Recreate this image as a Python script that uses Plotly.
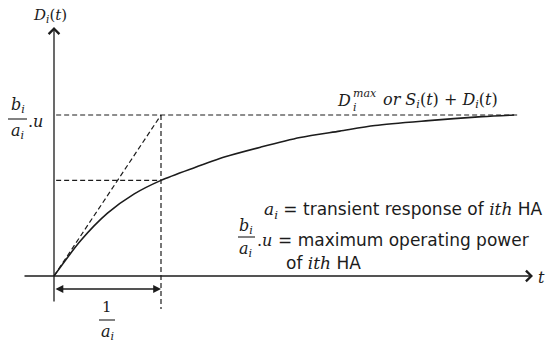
import plotly.graph_objects as go

# Step response of the i-th HA, normalised: time in units of 1/a_i,
# demand in units of (b_i/a_i)·u
t_curve = [0, 0.25, 0.5, 0.75, 1.0, 1.3, 1.6, 1.93, 2.3, 2.67, 3.0, 3.5, 4.0, 4.3]
d_curve = [0, 0.22, 0.39, 0.51, 0.594, 0.67, 0.74, 0.80, 0.86, 0.90, 0.935, 0.965, 0.99, 1.0]

tau = 1.0          # time constant 1/a_i
d_max = 1.0        # (b_i/a_i)·u
d_at_tau = 0.594   # curve value at t = 1/a_i
t_end = 4.33       # end of the steady-state guide

W, H = 547, 343
X0, Y0, SX, SY = 54, 276, 107, 161   # origin and unit lengths on the canvas

x_range = [-X0 / SX, (W - X0) / SX]
y_range = [(Y0 - H) / SY, Y0 / SY]

SERIF = "DejaVu Serif"
SANS = "DejaVu Sans"
INK = "#1c1c1c"

fig = go.Figure()

fig.add_trace(go.Scatter(
    x=t_curve, y=d_curve, mode="lines",
    line=dict(color=INK, width=1.6, shape="spline", smoothing=0.8),
    hoverinfo="skip", showlegend=False,
))

dash = "5px,3px"
guide = dict(color=INK, width=1.2, dash=dash)
shapes = [
    # steady-state level
    dict(type="line", x0=0.02, y0=d_max, x1=t_end, y1=d_max, line=guide),
    # level reached at t = 1/a_i
    dict(type="line", x0=0.02, y0=d_at_tau, x1=tau, y1=d_at_tau, line=guide),
    # t = 1/a_i
    dict(type="line", x0=tau, y0=d_max, x1=tau, y1=(Y0 - 309) / SY, line=guide),
    # initial tangent
    dict(type="line", x0=0, y0=0, x1=tau, y1=d_max, line=guide),
]


def px(x):
    return x / W


def py(y):
    return 1 - y / H


annotations = []


def text(s, x, y, size, family=SERIF, xanchor="center"):
    annotations.append(dict(
        text=s, x=px(x), y=py(y), xref="paper", yref="paper",
        showarrow=False, xanchor=xanchor, yanchor="middle",
        font=dict(family=family, size=size, color=INK),
    ))


def arrow(x0, y0, x1, y1, head, size, side="end"):
    annotations.append(dict(
        text="", x=x1, y=y1, ax=x0, ay=y0,
        xref="x", yref="y", axref="x", ayref="y",
        showarrow=True, arrowhead=head, startarrowhead=head,
        arrowsize=size, startarrowsize=size, arrowwidth=1.3,
        arrowcolor=INK, arrowside=side, standoff=0, startstandoff=0,
    ))


def frac_bar(x0, x1, y):
    shapes.append(dict(type="line", xref="paper", yref="paper",
                       x0=px(x0), x1=px(x1), y0=py(y), y1=py(y),
                       line=dict(color=INK, width=1.1)))


# axes
arrow(0, (Y0 - 303) / SY, 0, (Y0 - 27) / SY, 4, 1.6)
arrow((23 - X0) / SX, 0, (533 - X0) / SX, 0, 4, 1.6)
# 1/a_i span
arrow(0, (Y0 - 289) / SY, tau, (Y0 - 289) / SY, 2, 1.2, side="end+start")

# axis titles
text("<i>D</i><sub><i>i</i></sub>(<i>t</i>)", 50, 15, 15)
text("<i>t</i>", 541, 277, 16)

# (b_i/a_i).u on the vertical axis
text("<i>b</i><sub><i>i</i></sub>", 18, 105, 16)
frac_bar(8, 27, 119)
text("<i>a</i><sub><i>i</i></sub>", 18, 131, 16)
text(".<i>u</i>", 35, 121, 16)

# 1/a_i under the time axis
text("1", 107, 307, 15)
frac_bar(99, 115, 320)
text("<i>a</i><sub><i>i</i></sub>", 108, 332, 16)

# steady-state label
text("<i>D</i>", 344, 100, 16)
text("<i>max</i>", 351, 94, 11, xanchor="left")
text("<i>i</i>", 351, 107, 11, xanchor="left")
text("<i>or S</i><sub><i>i</i></sub>(<i>t</i>) + <i>D</i><sub><i>i</i></sub>(<i>t</i>)",
     381, 100, 16, xanchor="left")


# legend text
def serif(s):
    return f'<span style="font-family:{SERIF}">{s}</span>'


text(serif("<i>a</i><sub><i>i</i></sub>") + " = transient response of "
     + serif("<i>ith</i>") + " HA", 262, 210, 17, family=SANS, xanchor="left")
text("<i>b</i><sub><i>i</i></sub>", 246, 226, 16)
frac_bar(238, 255, 237)
text("<i>a</i><sub><i>i</i></sub>", 246, 249, 16)
text(".<i>u</i>", 255, 240, 16, xanchor="left")
text("= maximum operating power", 276, 240, 17, family=SANS, xanchor="left")
text("of " + serif("<i>ith</i>") + " HA", 284, 263, 17, family=SANS, xanchor="left")

fig.update_layout(
    width=W, height=H,
    margin=dict(l=0, r=0, t=0, b=0),
    paper_bgcolor="white", plot_bgcolor="white",
    xaxis=dict(range=x_range, visible=False, fixedrange=True),
    yaxis=dict(range=y_range, visible=False, fixedrange=True),
    shapes=shapes, annotations=annotations,
    showlegend=False,
)

fig.write_html("out.html")
